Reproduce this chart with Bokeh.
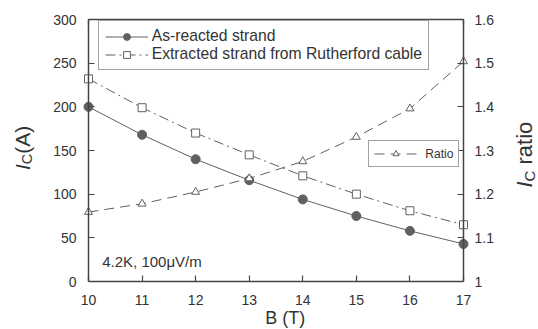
from bokeh.plotting import figure
from bokeh.models import Range1d, LinearAxis, FixedTicker, Legend, LegendItem, Label
from bokeh.embed import file_html
from bokeh.resources import INLINE
import math

# ---- data ----
B = [10, 11, 12, 13, 14, 15, 16, 17]
as_reacted = [200, 168, 140, 116, 94, 75, 58, 43]
extracted = [232, 199, 170, 145, 121, 100, 81, 65]
ratio = [1.159, 1.178, 1.205, 1.236, 1.275, 1.331, 1.396, 1.504]

x_ticks = [10, 11, 12, 13, 14, 15, 16, 17]
y_ticks = [0, 50, 100, 150, 200, 250, 300]
ratio_ticks = [1.0, 1.1, 1.2, 1.3, 1.4, 1.5, 1.6]
ratio_tick_labels = ["1", "1.1", "1.2", "1.3", "1.4", "1.5", "1.6"]

# ---- layout (pixels) ----
W, H = 538, 329
PL, PR, PT, PB = 88, 463, 19, 281     # plot box edges on the canvas
XLO, XHI = 10, 17
YLO, YHI = 0, 300
RLO, RHI = 1.0, 1.6

def extend(lo, hi, p_lo, p_hi, c_lo, c_hi):
    # range whose [lo, hi] maps onto pixels [p_lo, p_hi] of a canvas [c_lo, c_hi]
    s = (hi - lo) / (p_hi - p_lo)
    return lo - (p_lo - c_lo) * s, hi + (c_hi - p_hi) * s

xr = extend(XLO, XHI, PL, PR, 0, W)
yr = extend(YLO, YHI, H - PB, H - PT, 0, H)
rr = extend(RLO, RHI, H - PB, H - PT, 0, H)

FONT = "Liberation Sans"
TXT = "#333333"
AX = "#444444"
LN = "#606060"

p = figure(width=W, height=H, x_range=Range1d(*xr), y_range=Range1d(*yr),
           output_backend="svg", toolbar_location=None, title=None,
           x_axis_location=None, y_axis_location=None,
           min_border=0, min_border_left=0, min_border_right=0,
           min_border_top=0, min_border_bottom=0)
p.extra_y_ranges = {"ratio": Range1d(*rr)}
p.background_fill_color = "white"
p.border_fill_color = "white"
p.outline_line_color = None
p.grid.visible = False

def style_axis(ax, standoff):
    ax.axis_line_color = AX
    ax.axis_line_width = 1.5
    ax.major_tick_line_color = AX
    ax.major_tick_line_width = 1.2
    ax.major_tick_in = 6
    ax.major_tick_out = 0
    ax.minor_tick_line_color = None
    ax.major_label_text_font = FONT
    ax.major_label_text_color = TXT
    ax.major_label_standoff = standoff
    ax.major_label_text_font_size = "14px"

bottom = LinearAxis(ticker=FixedTicker(ticks=x_ticks), fixed_location=YLO, bounds=(XLO, XHI))
style_axis(bottom, 13)
p.add_layout(bottom, "below")

left = LinearAxis(ticker=FixedTicker(ticks=y_ticks), fixed_location=XLO, bounds=(YLO, YHI))
style_axis(left, 12)
p.add_layout(left, "left")

right = LinearAxis(y_range_name="ratio", ticker=FixedTicker(ticks=ratio_ticks),
                   fixed_location=XHI, bounds=(RLO, RHI),
                   major_label_overrides={t: s for t, s in zip(ratio_ticks, ratio_tick_labels)})
style_axis(right, 11)
p.add_layout(right, "right")

top = LinearAxis(ticker=FixedTicker(ticks=x_ticks), fixed_location=YHI, bounds=(XLO, XHI))
style_axis(top, 0)
top.major_label_text_color = None
p.add_layout(top, "above")

# ---- series ----
l1 = p.line(B, as_reacted, line_color=LN, line_width=1)
s1 = p.scatter(B, as_reacted, marker="circle", size=9, fill_color=LN, line_color=LN)
l2 = p.line(B, extracted, line_color=LN, line_width=1, line_dash="10 4 2 4")
s2 = p.scatter(B, extracted, marker="square", size=8, fill_color="white", line_color=LN)
l3 = p.line(B, ratio, y_range_name="ratio", line_color=LN, line_width=1, line_dash="10 6")
s3 = p.scatter(B, ratio, y_range_name="ratio", marker="triangle", size=8, fill_color="white",
               line_color=LN)

leg1 = Legend(items=[LegendItem(label="As-reacted strand", renderers=[l1, s1]),
                     LegendItem(label="Extracted strand from Rutherford cable", renderers=[l2, s2])],
              location=(97.7, H - 70), padding=6, spacing=0, margin=0,
              glyph_width=43, glyph_height=17, label_height=17, label_standoff=4,
              label_text_font=FONT, label_text_font_size="15.7px", label_text_color=TXT,
              border_line_color=AX, border_line_width=1,
              background_fill_color="white", background_fill_alpha=1)
p.add_layout(leg1)

leg2 = Legend(items=[LegendItem(label="Ratio", renderers=[l3, s3])],
              location=(368.3, H - 167.3), padding=5, spacing=0, margin=0,
              glyph_width=43, glyph_height=15, label_height=15, label_standoff=8,
              label_text_font=FONT, label_text_font_size="12px", label_text_color=TXT,
              border_line_color=AX, border_line_width=1,
              background_fill_color="white", background_fill_alpha=1)
p.add_layout(leg2)

# ---- texts (canvas pixels, measured from the top-left) ----
def lab(cx, cy, text, size, style="normal", angle=0.0, align="left", baseline="middle"):
    p.add_layout(Label(x=cx, y=H - cy, x_units="screen", y_units="screen", text=text,
                       text_font=FONT, text_font_size=size, text_font_style=style,
                       text_color=TXT, angle=angle, text_align=align, text_baseline=baseline))

R = math.pi / 2
# left: I_C(A), read bottom to top
lab(22, 169.5, "I", "21px", "italic", R)
lab(26, 163.7, "C", "14.5px", "normal", R)
lab(22, 153.2, "(A)", "21px", "normal", R)
# right: I_C ratio
lab(524, 187.0, "I", "22px", "italic", R)
lab(528.5, 180.9, "C", "15px", "normal", R)
lab(524, 164.0, "ratio", "22px", "normal", R)
# x label
lab(284.7, 317.5, "B (T)", "18px", align="center")
# annotation
lab(101.7, 260.5, "4.2K, 100\u03bcV/m", "15px")

open("out.html", "w").write(file_html(p, INLINE))
